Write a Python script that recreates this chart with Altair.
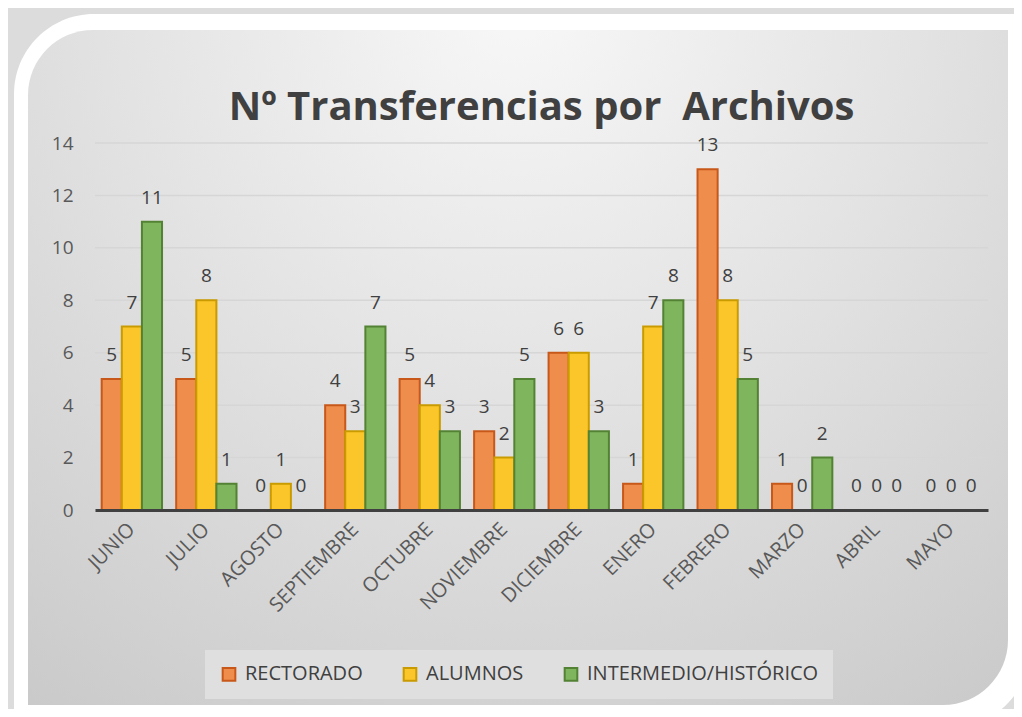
import altair as alt
import pandas as pd

months = ["JUNIO", "JULIO", "AGOSTO", "SEPTIEMBRE", "OCTUBRE", "NOVIEMBRE",
          "DICIEMBRE", "ENERO", "FEBRERO", "MARZO", "ABRIL", "MAYO"]
series = ["RECTORADO", "ALUMNOS", "INTERMEDIO/HISTÓRICO"]
rectorado = [5, 5, 0, 4, 5, 3, 6, 1, 13, 1, 0, 0]
alumnos = [7, 8, 1, 3, 4, 2, 6, 7, 8, 0, 0, 0]
intermedio = [11, 1, 0, 7, 3, 5, 3, 8, 5, 2, 0, 0]
y_ticks = [0, 2, 4, 6, 8, 10, 12, 14]
title_text = "Nº Transferencias por\u00a0 Archivos"

fills = ["#EE8D4C", "#FBC62A", "#7FB55C"]
strokes = ["#C8581A", "#C99B00", "#538234"]

FONT = "Open Sans"

rows = []
for s, vals in zip(series, [rectorado, alumnos, intermedio]):
    for m, v in zip(months, vals):
        rows.append({"mes": m, "serie": s, "valor": v})
df = pd.DataFrame(rows)
grid_df = pd.DataFrame({"valor": y_ticks[1:]})

x = alt.X("mes:N", sort=months, title=None,
          scale=alt.Scale(paddingInner=0.19, paddingOuter=0.09),
          axis=alt.Axis(labelAngle=-45, labelFontSize=20, labelColor="#595959",
                        labelFont=FONT, domainColor="#404040", domainWidth=3,
                        ticks=False, labelPadding=16, labelAlign="right",
                        labelBaseline="middle", grid=False, labelLimit=0,
                        zindex=1))
xoff = alt.XOffset("serie:N", sort=series, scale=alt.Scale(paddingInner=0.0))
y = alt.Y("valor:Q", title=None,
          scale=alt.Scale(domain=[0, 14]),
          axis=alt.Axis(values=y_ticks, labelFontSize=19,
                        labelColor="#595959", labelFont=FONT, domain=False,
                        ticks=False, labelPadding=22, grid=False, zindex=1))

color = alt.Color("serie:N", sort=series,
                  scale=alt.Scale(domain=series, range=fills),
                  legend=alt.Legend(title=None, orient="none", direction="horizontal",
                                    legendX=110, legendY=507,
                                    fillColor="#dfdfdf", padding=14,
                                    labelFontSize=20, labelColor="#404040",
                                    labelFont=FONT, symbolType="square",
                                    symbolSize=160, symbolStrokeWidth=2,
                                    columnPadding=36, labelOffset=6,
                                    labelLimit=0, zindex=1))
stroke = alt.Stroke("serie:N", sort=series,
                    scale=alt.Scale(domain=series, range=strokes), legend=None)

# decorative frame (not data)
frame_df = pd.DataFrame({"k": [0]})
frame = alt.Chart(frame_df).mark_rect(
    fill="white", cornerRadiusTopLeft=80, cornerRadiusBottomRight=80
).encode(x=alt.value(-81), x2=alt.value(935), y=alt.value(-129), y2=alt.value(585))
panel = alt.Chart(frame_df).mark_rect(
    fill=alt.RadialGradient(
        gradient="radial", x1=0.5, y1=0.12, x2=0.5, y2=0.12, r1=0, r2=0.95,
        stops=[alt.GradientStop(color="#f8f8f8", offset=0),
               alt.GradientStop(color="#e2e2e2", offset=0.45),
               alt.GradientStop(color="#c6c6c6", offset=1)]),
    cornerRadiusTopLeft=65, cornerRadiusBottomRight=65
).encode(x=alt.value(-67), x2=alt.value(913), y=alt.value(-113), y2=alt.value(562))

title = alt.Chart(pd.DataFrame({"t": [title_text]})).mark_text(
    fontSize=40, font=FONT, fontWeight="bold", color="#404040",
    align="center", baseline="alphabetic"
).encode(text="t:N", x=alt.value(446.5), y=alt.value(-23))

grid = alt.Chart(grid_df).mark_rule(color="#d6d6d6", strokeWidth=1.5).encode(
    y=alt.Y("valor:Q", scale=alt.Scale(domain=[0, 14])))

bars = alt.Chart(df).transform_filter("datum.valor > 0").mark_bar(
    strokeWidth=2).encode(x=x, xOffset=xoff, y=y, color=color, stroke=stroke)

labels = alt.Chart(df).mark_text(dy=-24, fontSize=19, color="#404040",
                                 font=FONT).encode(
    x=x, xOffset=xoff, y=y, text="valor:Q")

chart = alt.layer(frame, panel, title, grid, bars, labels).properties(
    width=893, height=367,
    padding={"left": 87, "top": 135, "right": 26, "bottom": 199},
    autosize=alt.AutoSizeParams(type="none"),
    background="#dcdcdc",
).configure_view(stroke=None)

chart.save("out.html", embed_options={"renderer": "svg", "actions": False})
